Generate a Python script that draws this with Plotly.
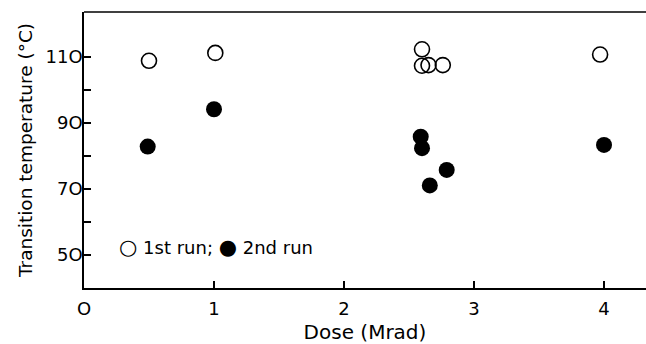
import plotly.graph_objects as go

# 1st run (open circles)
run1_dose = [0.50, 1.01, 2.60, 2.60, 2.65, 2.76, 3.97]
run1_temp = [108.8, 111.2, 112.3, 107.3, 107.5, 107.5, 110.7]
# 2nd run (filled circles)
run2_dose = [0.49, 1.00, 2.59, 2.60, 2.66, 2.79, 4.00]
run2_temp = [82.8, 94.1, 85.8, 82.3, 71.0, 75.7, 83.3]

x_ticks = [0, 1, 2, 3, 4]
x_labels = ["O", "1", "2", "3", "4"]
y_ticks = [50, 70, 90, 110]
y_labels = ["5O", "7O", "9O", "11O"]
key_text = "<span style='font-size:21px'>○</span> 1st run; <span style='font-size:21px'>●</span> 2nd run"

font = dict(family="DejaVu Sans", size=18, color="black")

fig = go.Figure()
fig.add_trace(go.Scatter(
    x=run1_dose, y=run1_temp, mode="markers", name="1st run",
    marker=dict(symbol="circle-open", size=15, color="black", line=dict(width=1.6, color="black")),
))
fig.add_trace(go.Scatter(
    x=run2_dose, y=run2_temp, mode="markers", name="2nd run",
    marker=dict(symbol="circle", size=16, color="black"),
))

fig.update_layout(
    width=646, height=344,
    margin=dict(l=84, r=0, t=12, b=56),
    paper_bgcolor="white", plot_bgcolor="white",
    font=font,
    showlegend=False,
    annotations=[dict(text=key_text, xref="paper", yref="paper", x=0.058, y=0.149,
                      xanchor="left", yanchor="middle", showarrow=False,
                      font=dict(family="DejaVu Sans", size=18, color="black"))],
    shapes=[dict(type="line", xref="paper", yref="paper", x0=0, x1=1, y0=1, y1=1,
                 line=dict(color="black", width=1.5))],
)
fig.update_xaxes(
    range=[0, 4.323], showgrid=False, zeroline=False,
    showline=True, linecolor="black", linewidth=1.5, mirror=False,
    ticks="inside", ticklen=7, tickwidth=1.5, tickcolor="black",
    tickvals=x_ticks, ticktext=x_labels, ticklabelstandoff=4,
    title=dict(text="Dose (Mrad)", standoff=8, font=dict(size=20)),
)
fig.update_yaxes(
    range=[39.9, 123.6], showgrid=False, zeroline=False,
    showline=True, linecolor="black", linewidth=1.5, mirror=False,
    ticks="inside", ticklen=7, tickwidth=1.5, tickcolor="black",
    tickvals=y_ticks, ticktext=y_labels, ticklabelstandoff=-4,
    minor=dict(tickvals=[60, 80, 100], ticks="inside", ticklen=7, tickwidth=1.5, tickcolor="black"),
    title=dict(text="Transition temperature (°C)", standoff=8, font=dict(size=18.5)),
)

fig.write_html("out.html")
